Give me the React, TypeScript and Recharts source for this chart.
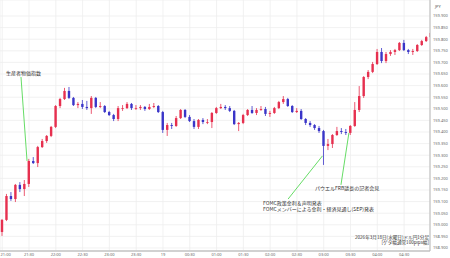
import {
  ComposedChart,
  Bar,
  XAxis,
  YAxis,
  CartesianGrid,
  ReferenceLine,
} from "recharts";

const firstOpen = 158.969;

const closes = [
  159.021, 159.124, 159.111, 159.172, 159.154, 159.176, 159.275, 159.266, 159.335, 159.361,
  159.383, 159.422, 159.512, 159.542, 159.577, 159.547, 159.516, 159.521, 159.508, 159.503,
  159.547, 159.508, 159.512, 159.486, 159.473, 159.456, 159.503, 159.503, 159.521, 159.503,
  159.503, 159.508, 159.499, 159.508, 159.512, 159.486, 159.409, 159.430, 159.426, 159.460,
  159.495, 159.465, 159.447, 159.422, 159.452, 159.443, 159.443, 159.482, 159.503, 159.508,
  159.503, 159.491, 159.434, 159.439, 159.473, 159.495, 159.482, 159.495, 159.499, 159.478,
  159.482, 159.503, 159.529, 159.542, 159.512, 159.486, 159.491, 159.456, 159.439, 159.430,
  159.417, 159.404, 159.340, 159.348, 159.387, 159.404, 159.400, 159.396, 159.426, 159.495,
  159.555, 159.637, 159.659, 159.693, 159.745, 159.706, 159.736, 159.745, 159.753, 159.784,
  159.753, 159.745, 159.749, 159.775, 159.792, 159.809, 159.827,
];

const highs = [
  159.025, 159.133, 159.141, 159.176, 159.184, 159.193, 159.284, 159.292, 159.340, 159.370,
  159.387, 159.426, 159.516, 159.547, 159.590, 159.594, 159.551, 159.529, 159.538, 159.534,
  159.555, 159.551, 159.529, 159.516, 159.491, 159.478, 159.512, 159.516, 159.529, 159.525,
  159.516, 159.516, 159.512, 159.521, 159.525, 159.516, 159.491, 159.439, 159.439, 159.469,
  159.499, 159.499, 159.473, 159.456, 159.456, 159.460, 159.456, 159.486, 159.508, 159.521,
  159.516, 159.512, 159.495, 159.443, 159.478, 159.499, 159.512, 159.503, 159.512, 159.508,
  159.491, 159.508, 159.534, 159.555, 159.547, 159.516, 159.503, 159.499, 159.460, 159.447,
  159.434, 159.426, 159.409, 159.370, 159.391, 159.422, 159.417, 159.413, 159.430, 159.529,
  159.598, 159.641, 159.667, 159.702, 159.758, 159.762, 159.745, 159.753, 159.758, 159.788,
  159.797, 159.758, 159.758, 159.779, 159.797, 159.814, 159.848,
];

const lows = [
  158.952, 159.016, 159.103, 159.098, 159.141, 159.124, 159.163, 159.262, 159.249, 159.331,
  159.353, 159.378, 159.417, 159.503, 159.538, 159.542, 159.512, 159.503, 159.499, 159.495,
  159.478, 159.503, 159.503, 159.482, 159.469, 159.447, 159.447, 159.491, 159.499, 159.495,
  159.495, 159.495, 159.491, 159.495, 159.503, 159.482, 159.396, 159.383, 159.413, 159.422,
  159.456, 159.460, 159.443, 159.413, 159.413, 159.434, 159.434, 159.417, 159.478, 159.499,
  159.495, 159.486, 159.430, 159.404, 159.434, 159.469, 159.478, 159.473, 159.491, 159.469,
  159.465, 159.478, 159.499, 159.521, 159.508, 159.482, 159.482, 159.452, 159.430, 159.422,
  159.409, 159.396, 159.258, 159.322, 159.331, 159.383, 159.391, 159.387, 159.387, 159.422,
  159.486, 159.547, 159.628, 159.654, 159.689, 159.697, 159.697, 159.728, 159.732, 159.749,
  159.749, 159.736, 159.732, 159.745, 159.771, 159.788, 159.805,
];

const timeLabels = [
  "21:00", "21:30", "22:00", "22:30", "23:00", "23:30", "19", "00:30",
  "01:00", "01:30", "02:00", "02:30", "03:00", "03:30", "04:00", "04:30",
];

const priceTicks = [
  158.9, 158.95, 159.0, 159.05, 159.1, 159.15, 159.2, 159.25, 159.3, 159.35, 159.4,
  159.45, 159.5, 159.55, 159.6, 159.65, 159.7, 159.75, 159.8, 159.85, 159.9,
];

// green pointer lines: [minute, price] -> [minute, price]
const pointers = [
  [[21.0, 159.637], [27.8, 159.275]],
  [[320.1, 159.111], [358.6, 159.297]],
  [[379.3, 159.172], [388.2, 159.396]],
];

const UP = "#e6304f";
const DOWN = "#3a35c8";
const TEXT = "#333";
const CJK = '"Noto Sans CJK JP", "Noto Sans", sans-serif';

const candles = closes.map((close, i) => ({
  minute: i * 5,
  open: i === 0 ? firstOpen : closes[i - 1],
  close,
  high: highs[i],
  low: lows[i],
}));

const tickMinutes = timeLabels.map((_, i) => i * 30);

function Candle(props: any) {
  const { x, y, width, height, payload } = props;
  if (x == null || y == null) return null;
  const { open, close } = payload;
  const high = Math.max(payload.high, open, close);
  const low = Math.min(payload.low, open, close);
  const top = Math.min(y, y + height);
  const h = Math.abs(height);
  const span = high - low || 1e-6;
  const py = (v: number) => top + ((high - v) / span) * h;
  const color = close >= open ? UP : DOWN;
  const cx = x + width / 2;
  const bodyTop = py(Math.max(open, close));
  const bodyBot = py(Math.min(open, close));
  return (
    <g>
      <line x1={cx} x2={cx} y1={top} y2={top + h} stroke={color} strokeWidth={0.8} />
      <rect
        x={cx - 1.2}
        y={bodyTop}
        width={2.4}
        height={Math.max(bodyBot - bodyTop, 0.8)}
        fill={color}
      />
    </g>
  );
}

function TimeTick(props: any) {
  const { x, y, payload, index } = props;
  const first = index === 0;
  return (
    <text
      x={first ? 0.5 : x}
      y={y + 3.5}
      textAnchor={first ? "start" : "middle"}
      fontSize={4}
      fill="#666"
      fontFamily="Noto Sans"
    >
      {timeLabels[Math.round(payload.value / 30)] ?? ""}
    </text>
  );
}

export default function App() {
  return (
    <div style={{ position: "absolute", left: 0, top: 0, width: 450, height: 258, background: "#fff" }}>
      <ComposedChart
        width={450}
        height={258}
        data={candles}
        margin={{ top: 0, right: 0, bottom: 0, left: 0 }}
      >
        <CartesianGrid stroke="#ededed" strokeWidth={0.8} />
        <XAxis
          dataKey="minute"
          type="number"
          domain={[-2.5, 479]}
          allowDataOverflow
          ticks={tickMinutes}
          interval={0}
          height={7}
          tickSize={0}
          tickMargin={1}
          tick={<TimeTick />}
          axisLine={{ stroke: "#c4c4c4", strokeWidth: 1.5 }}
        />
        <YAxis
          orientation="right"
          type="number"
          domain={[158.887, 159.969]}
          allowDataOverflow
          ticks={priceTicks}
          tickFormatter={(v: number) => v.toFixed(3)}
          interval={0}
          width={20}
          tickSize={0}
          tickMargin={3}
          tick={{ fontSize: 4, fill: "#666", fontFamily: "Noto Sans", textAnchor: "start" }}
          axisLine={{ stroke: "#b8b8b8" }}
        />
        <Bar
          dataKey={(d: any) => [d.low, d.high]}
          barSize={4}
          shape={Candle}
          isAnimationActive={false}
        />
        {pointers.map((seg, i) => (
          <ReferenceLine
            key={i}
            segment={[
              { x: seg[0][0], y: seg[0][1] },
              { x: seg[1][0], y: seg[1][1] },
            ]}
            stroke="#55d855"
            strokeWidth={0.9}
          />
        ))}
      </ComposedChart>
      <svg
        width={450}
        height={258}
        style={{ position: "absolute", left: 0, top: 0, pointerEvents: "none" }}
      >
        <g fontFamily={CJK} fill={TEXT} fontSize={5}>
          <text x={6} y={75}>生産者物価指数</text>
          <text x={263} y={205}>FOMC政策金利＆声明発表</text>
          <text x={263} y={211}>FOMCメンバーによる金利・経済見通し(SEP)発表</text>
          <text x={315} y={190}>パウエルFRB議長の記者会見</text>
          <text x={429} y={239} textAnchor="end" fontSize={4.6}>
            2026年3月18日(水曜日)ドル円1分足
          </text>
          <text x={429} y={244} textAnchor="end" fontSize={4.6}>
            [ゲタ幅通常100pips幅]
          </text>
        </g>
        <text x={435} y={8} fontSize={4} fill="#555" fontFamily="Noto Sans">
          JPY
        </text>
      </svg>
    </div>
  );
}
